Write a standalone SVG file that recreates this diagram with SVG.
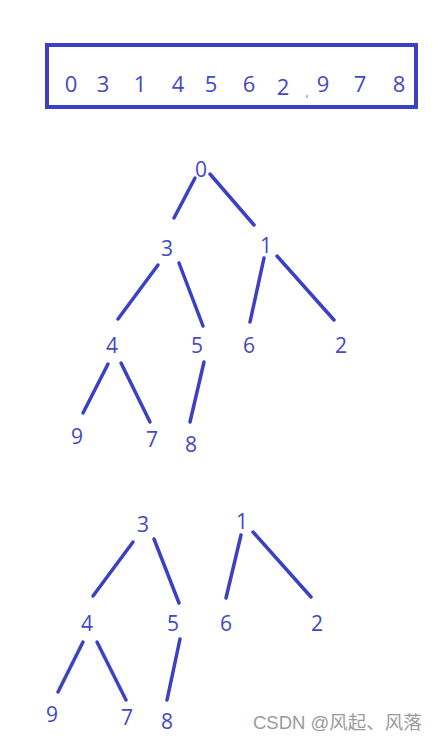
<svg xmlns="http://www.w3.org/2000/svg" width="441" height="743" viewBox="0 0 441 743">
<style>
.e{stroke:#3b40c4;stroke-width:3.5;stroke-linecap:round;fill:none}
.t{font-family:"Open Sans","Liberation Sans",sans-serif;font-size:21px;fill:#4448c4;text-anchor:middle}
.b{font-size:22px}
.w{font-family:"Liberation Sans","Noto Sans CJK SC",sans-serif;font-size:18.5px;fill:#9a9a9a}
</style>
<rect width="441" height="743" fill="#fff"/>
<g id="array">
<rect x="47" y="45" width="369" height="62" fill="none" stroke="#3b40c4" stroke-width="4"/>
<text class="t b" x="71" y="92">0</text>
<text class="t b" x="103" y="92">3</text>
<text class="t b" x="140" y="92">1</text>
<text class="t b" x="178" y="92">4</text>
<text class="t b" x="211" y="92">5</text>
<text class="t b" x="249" y="92">6</text>
<text class="t b" x="283" y="95">2</text>
<text class="t" x="307" y="97" style="font-size:10px">,</text>
<text class="t b" x="323" y="92">9</text>
<text class="t b" x="360" y="92">7</text>
<text class="t b" x="399" y="92">8</text>
</g>
<g id="connectors">
<line class="e" x1="195" y1="178" x2="174" y2="218"/>
<line class="e" x1="210" y1="174" x2="254" y2="225"/>
<line class="e" x1="158" y1="265" x2="118" y2="319"/>
<line class="e" x1="179" y1="263" x2="203" y2="326"/>
<line class="e" x1="264" y1="258" x2="250" y2="322"/>
<line class="e" x1="277" y1="256" x2="334" y2="320"/>
<line class="e" x1="108" y1="364" x2="83" y2="413"/>
<line class="e" x1="121" y1="363" x2="150" y2="422"/>
<line class="e" x1="204" y1="362" x2="190" y2="422"/>
<line class="e" x1="133" y1="542" x2="93" y2="596"/>
<line class="e" x1="154" y1="539" x2="179" y2="603"/>
<line class="e" x1="241" y1="535" x2="226" y2="598"/>
<line class="e" x1="253" y1="532" x2="311" y2="597"/>
<line class="e" x1="83" y1="642" x2="58" y2="692"/>
<line class="e" x1="97" y1="642" x2="126" y2="700"/>
<line class="e" x1="180" y1="639" x2="167" y2="700"/>
</g>
<g id="t1-0"><text class="t" x="201" y="177">0</text></g>
<g id="t1-3"><text class="t" x="167" y="256">3</text></g>
<g id="t1-1"><text class="t" x="266" y="253">1</text></g>
<g id="t1-4"><text class="t" x="112" y="353">4</text></g>
<g id="t1-5"><text class="t" x="197" y="353">5</text></g>
<g id="t1-6"><text class="t" x="249" y="353">6</text></g>
<g id="t1-2"><text class="t" x="341" y="353">2</text></g>
<g id="t1-9"><text class="t" x="77" y="444">9</text></g>
<g id="t1-7"><text class="t" x="152" y="447">7</text></g>
<g id="t1-8"><text class="t" x="191" y="452">8</text></g>
<g id="t2-3"><text class="t" x="143" y="532">3</text></g>
<g id="t2-1"><text class="t" x="242" y="529">1</text></g>
<g id="t2-4"><text class="t" x="87" y="631">4</text></g>
<g id="t2-5"><text class="t" x="173" y="631">5</text></g>
<g id="t2-6"><text class="t" x="226" y="631">6</text></g>
<g id="t2-2"><text class="t" x="317" y="631">2</text></g>
<g id="t2-9"><text class="t" x="52" y="722">9</text></g>
<g id="t2-7"><text class="t" x="127" y="725">7</text></g>
<g id="t2-8"><text class="t" x="167" y="729">8</text></g>
<text class="w" x="253" y="729">CSDN @风起、风落</text>
</svg>
